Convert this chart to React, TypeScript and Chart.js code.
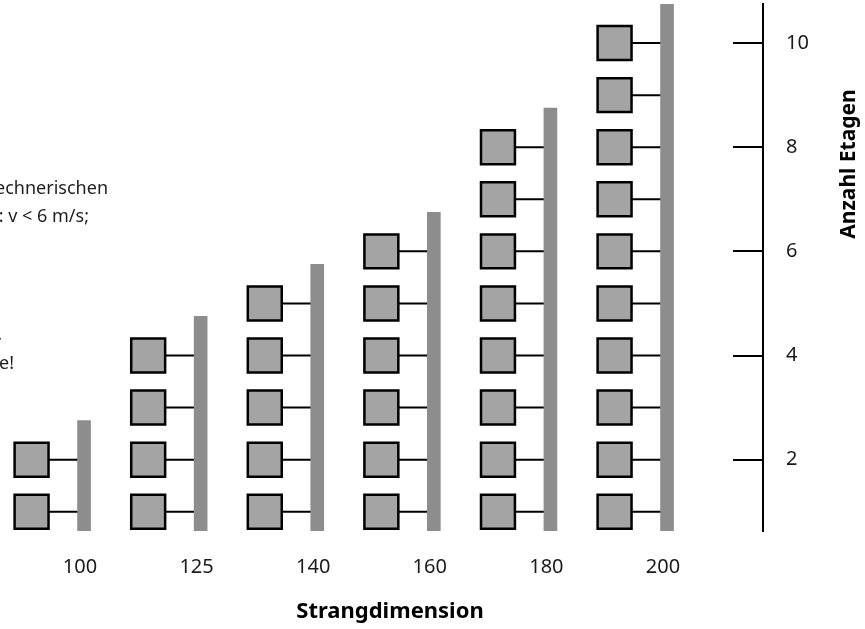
import React, { useEffect, useRef } from "react";
import { Chart, registerables } from "chart.js";

Chart.register(...registerables);

// ---- data ----
const categories = ["100", "125", "140", "160", "180", "200"];
const floorCounts = [2, 4, 5, 6, 8, 10];
const riserTops = [2.75, 4.75, 5.75, 6.75, 8.75, 10.75];
const riserBottom = 0.63;
const yTickValues = [2, 4, 6, 8, 10];
const xTitle = "Strangdimension";
const yTitle = "Anzahl Etagen";
const noteLines = [
  { text: "Die Werte basieren auf rechnerischen", right: 108, y: 189 },
  { text: "Strömungsgeschwindigkeit: v < 6 m/s;", right: 89, y: 217 },
  { text: "Angaben ohne Gewähr.", right: 2, y: 335 },
  { text: "Siehe auch technische Unterlage!", right: 14, y: 364 },
];

// ---- layout (style only) ----
const SQUARE_OFFSET = -0.415;
const RISER_OFFSET = 0.035;
const FONT = "'Noto Sans', 'DejaVu Sans', sans-serif";

export default function App() {
  const ref = useRef<HTMLCanvasElement | null>(null);

  useEffect(() => {
    if (!ref.current) return;

    const squares: { x: number; y: number }[] = [];
    const connectors: { x: number; y: number | null }[] = [];
    categories.forEach((_, i) => {
      for (let f = 1; f <= floorCounts[i]; f++) {
        squares.push({ x: i + SQUARE_OFFSET, y: f });
        connectors.push({ x: i + SQUARE_OFFSET, y: f });
        connectors.push({ x: i + RISER_OFFSET, y: f });
        connectors.push({ x: i + RISER_OFFSET, y: null });
      }
    });
    const risers = categories.map((_, i) => ({
      x: i + RISER_OFFSET,
      y: [riserBottom, riserTops[i]],
    }));

    const textPlugin = {
      id: "texts",
      afterDraw(chart: any) {
        const ctx = chart.ctx;
        ctx.save();
        ctx.fillStyle = "#000";
        ctx.font = `bold 21px ${FONT}`;
        ctx.translate(849, 164);
        ctx.rotate(-Math.PI / 2);
        ctx.textAlign = "center";
        ctx.textBaseline = "middle";
        ctx.fillText(yTitle, 0, 0);
        ctx.restore();

        ctx.save();
        ctx.fillStyle = "#1e1e1e";
        ctx.font = `18px ${FONT}`;
        ctx.textAlign = "right";
        ctx.textBaseline = "middle";
        noteLines.forEach((l) => ctx.fillText(l.text, l.right, l.y));
        ctx.restore();
      },
    };

    const chart = new Chart(ref.current, {
      type: "bar",
      data: {
        datasets: [
          {
            type: "scatter",
            data: squares,
            pointStyle: "rect",
            pointRadius: 24,
            pointHoverRadius: 24,
            backgroundColor: "#a4a4a4",
            borderColor: "#000",
            borderWidth: 2.5,
            clip: false,
            order: 1,
          } as any,
          {
            type: "bar",
            data: risers as any,
            backgroundColor: "#8d8d8d",
            barThickness: 13,
            grouped: false,
            order: 2,
          } as any,
          {
            type: "line",
            data: connectors as any,
            borderColor: "#000",
            borderWidth: 2,
            pointRadius: 0,
            spanGaps: false,
            order: 3,
          } as any,
        ],
      },
      options: {
        responsive: false,
        animation: false,
        events: [],
        layout: { autoPadding: false, padding: { left: 17, top: 4, right: 0, bottom: 0 } },
        plugins: { legend: { display: false }, tooltip: { enabled: false } },
        scales: {
          x: {
            type: "linear",
            offset: false,
            min: -0.54,
            max: 5.858,
            grid: { display: false, drawTicks: false, offset: false },
            border: { display: false },
            afterBuildTicks: (scale: any) => {
              scale.ticks = categories.map((_, i) => ({ value: i }));
            },
            afterFit: (scale: any) => {
              scale.height = 98;
              scale.paddingLeft = 0;
              scale.paddingRight = 0;
            },
            ticks: {
              autoSkip: false,
              maxRotation: 0,
              padding: 24,
              color: "#1a1a1a",
              font: { family: FONT, size: 20 },
              callback: (v: any) => categories[v as number] ?? "",
            },
            title: {
              display: true,
              text: xTitle,
              color: "#000",
              font: { family: FONT, size: 22, weight: "bold" },
              padding: { top: 4, bottom: 4 },
            },
          },
          y: {
            type: "linear",
            position: "right",
            min: riserBottom,
            max: 10.75,
            afterBuildTicks: (scale: any) => {
              scale.ticks = yTickValues.map((v) => ({ value: v }));
            },
            afterFit: (scale: any) => {
              scale.width = 102;
              scale.paddingTop = 0;
              scale.paddingBottom = 0;
            },
            grid: {
              display: true,
              drawOnChartArea: false,
              drawTicks: true,
              tickLength: -30,
              color: "#000",
              lineWidth: 2,
            },
            border: { display: true, color: "#000", width: 2 },
            ticks: {
              padding: 53,
              color: "#1a1a1a",
              font: { family: FONT, size: 20 },
            },
          },
        },
      } as any,
      plugins: [textPlugin],
    });

    return () => chart.destroy();
  }, []);

  return (
    <div style={{ position: "fixed", left: 0, top: 0, width: 865, height: 629, background: "#fff" }}>
      <canvas ref={ref} width={865} height={629} style={{ display: "block" }} />
    </div>
  );
}
